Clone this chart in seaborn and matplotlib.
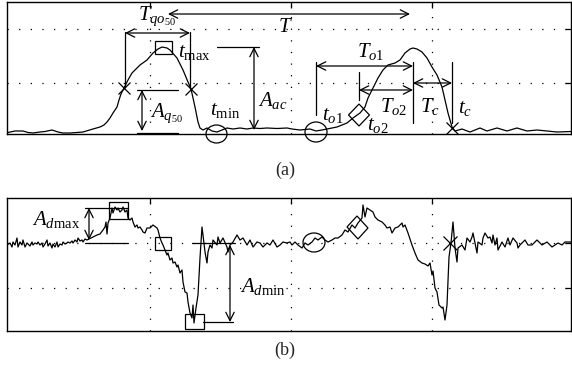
import numpy as np
import pandas as pd
import matplotlib
matplotlib.use("Agg")
import matplotlib.pyplot as plt
import seaborn as sns
from matplotlib.patches import Rectangle, Ellipse, Polygon

# ---------------- data ----------------
# (a) pulse waveform: sample index vs amplitude (arbitrary units)
pulse_t = [-2, 6, 14, 19, 24, 31, 36, 43, 49, 54, 61, 68, 74, 79, 84, 91, 95, 98, 101, 104,
           108, 110, 112, 115, 119, 123, 131, 138, 144, 149, 153, 158, 161, 168, 174, 179, 182, 186, 189, 191,
           194, 198, 203, 208, 213, 218, 224, 231, 238, 244, 251, 258, 268, 278, 283, 291, 301, 307, 313, 318,
           328, 338, 344, 351, 356, 359, 364, 369, 374, 379, 386, 391, 396, 401, 404, 408, 413, 418, 423, 428,
           433, 436, 439, 443, 446, 453, 461, 471, 478, 488, 498, 508, 518, 528, 538, 548, 562]
pulse_a = [4.3, 6, 6, 4.5, 4, 5, 5.5, 7, 5, 4, 4, 4.5, 5, 6.5, 8, 10, 12, 15, 19, 24,
           30, 37, 43, 49, 57, 64, 72, 77, 84, 88, 90, 89, 87, 79, 67, 55, 48, 30, 15, 9,
           7, 9, 6, 5, 7, 9, 8, 9, 8, 9, 8.5, 9, 8.5, 9, 8, 7, 8, 6, 7, 8,
           10, 14, 19, 24, 30, 39, 49, 59, 67, 72, 74, 77, 84, 88, 89, 88, 85, 79, 70, 62,
           50, 37, 24, 10, 6, 8, 5, 9, 6, 9, 6, 9, 6, 7, 6, 5, 5.5]

# (b) derivative waveform: sample index vs value
deriv_t = [-2, 1, 3, 4, 6, 8, 9, 11, 13, 14, 16, 18, 19, 21, 23, 24, 26, 28, 29, 31,
           33, 34, 36, 38, 39, 41, 43, 44, 46, 48, 49, 51, 53, 54, 56, 58, 59, 61, 63, 64,
           66, 68, 69, 71, 73, 74, 76, 78, 80, 84, 88, 91, 94, 96, 97, 98, 99, 101, 103, 104,
           106, 108, 109, 111, 113, 114, 116, 118, 119, 121, 123, 124, 126, 128, 129, 131, 133, 134, 136, 138,
           141, 144, 148, 149, 151, 153, 154, 156, 158, 159, 161, 163, 164, 166, 168, 169, 171, 173, 174, 176,
           178, 179, 181, 183, 184, 185, 187, 189, 191, 193, 194, 196, 198, 199, 201, 203, 204, 208, 209, 211,
           214, 218, 219, 221, 224, 228, 231, 234, 238, 241, 244, 248, 251, 254, 258, 261, 264, 268, 271, 274,
           278, 281, 283, 286, 289, 293, 296, 299, 303, 306, 309, 313, 316, 319, 323, 326, 329, 333, 336, 339,
           343, 346, 349, 353, 354, 356, 358, 361, 364, 366, 369, 373, 376, 378, 381, 383, 386, 389, 393, 394,
           396, 399, 403, 406, 409, 413, 416, 419, 421, 423, 424, 426, 428, 430, 433, 434, 436, 438, 439, 440,
           442, 444, 446, 448, 449, 453, 456, 458, 461, 463, 464, 468, 469, 473, 474, 476, 479, 481, 483, 484,
           486, 488, 489, 493, 496, 499, 501, 504, 508, 509, 511, 516, 519, 523, 528, 533, 538, 543, 546, 549,
           553, 556, 562]
deriv_d = [-2, 0, -4, 1, -2, 5, -4, 1, -2, 3, -4, 0, -1, -3, 1, -2, 0, -1, 1, -2,
           0, -4, -1, 3, -3, 0, -5, -1, -4, 1, -4, -1, -2, 1, -1, 0, 1, 0, 2, 0,
           3, 1, 5, 2, 3, 1, 4, 3, 4, 6, 8, 9, 13, 16, 21, 9, 20, 25, 35, 30,
           36, 33, 35, 31, 33, 36, 31, 33, 25, 23, 25, 21, 16, 18, 15, 16, 13, 11, 10, 15,
           15, 18, 15, 13, 5, 0, -2, -7, -12, -10, -17, -15, -20, -19, -24, -22, -30, -27, -39, -49,
           -50, -59, -70, -75, -62, -80, -65, -52, -15, 16, 8, -9, -20, -9, -2, -5, 3, -2, 6, 0,
           5, -4, -9, -2, 1, 8, 3, 5, -2, 3, -4, 1, 0, -4, 0, -2, 3, -4, -2, 1,
           0, 1, -2, 1, -2, -5, 0, -2, 1, 5, 3, 6, 3, 1, 3, 5, 5, 8, 13, 11,
           18, 15, 20, 25, 38, 26, 35, 33, 31, 26, 23, 21, 18, 15, 16, 10, 15, 16, 20, 16,
           18, 10, -2, -10, -17, -20, -21, -23, -20, -32, -28, -45, -49, -62, -65, -64, -77, -62, -39, -14,
           0, 21, -5, -19, -5, -2, -7, 5, 1, 6, 10, -10, 1, -2, 5, 10, 5, 6, 0, 8,
           -2, 5, -7, 1, -4, 5, -2, 5, 0, -5, -2, 3, -2, -2, 3, -2, 1, -4, -2, 0,
           -2, 1, 1]

grid_t = [141, 282, 423]
grid_a = [54, 108]
grid_d = [-45, 0]

# ---------------- style ----------------
sns.set_style("white")
plt.rcParams["font.family"] = ["Liberation Serif", "DejaVu Serif"]
plt.rcParams["mathtext.fontset"] = "custom"
plt.rcParams["mathtext.rm"] = "Liberation Serif"
plt.rcParams["mathtext.it"] = "Liberation Serif:italic"
plt.rcParams["mathtext.bf"] = "Liberation Serif:bold"

LW = 0.9
FS = 15
K = "black"

fig = plt.figure(figsize=(5.72, 3.77), dpi=100)
fig.patch.set_facecolor("white")
ax_a = fig.add_axes([7 / 572, 1 - 134 / 377, 564 / 572, 132 / 377])
ax_b = fig.add_axes([7 / 572, 1 - 331 / 377, 564 / 572, 133 / 377])

df_a = pd.DataFrame({"t": pulse_t, "a": pulse_a})
df_b = pd.DataFrame({"t": deriv_t, "d": deriv_d})
sns.lineplot(data=df_a, x="t", y="a", ax=ax_a, color=K, lw=LW, estimator=None, sort=False)
sns.lineplot(data=df_b, x="t", y="d", ax=ax_b, color=K, lw=0.9, estimator=None, sort=False)

for ax, yt, yl in [(ax_a, grid_a, (3, 135)), (ax_b, grid_d, (-88, 45))]:
    ax.set_xlim(-2, 562)
    ax.set_ylim(*yl)
    ax.set_xticks(grid_t)
    ax.set_yticks(yt)
    ax.set_xlabel("")
    ax.set_ylabel("")
    ax.tick_params(direction="in", length=4, width=0.9, color=K, top=True, right=True,
                   labelbottom=False, labelleft=False)
    ax.grid(True, color=K, lw=0.9, linestyle=(0, (1, 8.3)))
    for s in ax.spines.values():
        s.set_color(K)
        s.set_linewidth(1.0)
        s.set_visible(True)
    ax.set_facecolor("white")


def darrow(ax, x0, y0, x1, y1):
    ax.annotate("", xy=(x1, y1), xytext=(x0, y0),
                arrowprops=dict(arrowstyle="<->,head_length=0.6,head_width=0.3", lw=LW, color=K,
                                shrinkA=0, shrinkB=0, mutation_scale=10),
                annotation_clip=False)


def seg(ax, x0, y0, x1, y1):
    ax.plot([x0, x1], [y0, y1], color=K, lw=LW, clip_on=False)


def label(ax, x, y, s, ha="left"):
    ax.text(x, y, s, fontsize=FS, ha=ha, va="baseline", color=K)


# ---------------- annotations (a) ----------------
a = ax_a
darrow(a, 159, 123, 401, 123)
label(a, 276, 105, "$T$", ha="center")
darrow(a, 116, 104, 181, 104)
seg(a, 116, 105, 116, 50)
seg(a, 181, 105, 181, 49)
label(a, 129, 117, "$T_{qo_{50}}$")
a.add_patch(Rectangle((146, 83), 17, 13, fill=False, ec=K, lw=LW))
label(a, 169, 80, r"$t_{\mathrm{max}}$")
seg(a, 208, 90, 250, 90)
darrow(a, 245, 90, 245, 7)
label(a, 249, 31, "$A_{ac}$")
darrow(a, 133, 47, 133, 6)
seg(a, 128, 47, 169, 47)
seg(a, 128, 4.5, 169, 4.5)
label(a, 141, 20, "$A_{q_{50}}$")
a.add_patch(Ellipse((207.5, 3), 21, 18, fill=False, ec=K, lw=LW, clip_on=False))
label(a, 201, 22, r"$t_{\mathrm{min}}$")
a.plot([115, 182, 443], [49, 48, 9], ls="none", marker="x", ms=9, mew=0.9, color=K, clip_on=False)

darrow(a, 307, 71, 404, 71)
seg(a, 307, 75, 307, 22)
seg(a, 404, 75, 404, 14)
label(a, 348, 80, "$T_{o1}$")
darrow(a, 350, 47, 404, 47)
seg(a, 350, 65, 350, 37)
label(a, 371, 25, "$T_{o2}$")
darrow(a, 404, 54, 443, 54)
seg(a, 443, 75, 443, 14)
label(a, 411, 25, "$T_c$")
label(a, 449, 24, "$t_c$")
a.add_patch(Ellipse((307, 5), 22, 20, fill=False, ec=K, lw=LW, clip_on=False))
label(a, 313, 17, "$t_{o1}$")
a.add_patch(Polygon([(339.5, 22), (350, 33), (360.5, 22), (350, 11)], closed=True,
                    fill=False, ec=K, lw=LW))
label(a, 358, 7, "$t_{o2}$")

# ---------------- annotations (b) ----------------
b = ax_b
seg(b, 76, 35, 119, 35)
seg(b, 76, 0, 119, 0)
darrow(b, 80, 35, 80, 3)
label(b, 23, 18, r"$A_{d\mathrm{max}}$")
b.add_patch(Rectangle((100, 24), 19, 17, fill=False, ec=K, lw=LW))
b.add_patch(Rectangle((146, -7), 16, 13, fill=False, ec=K, lw=LW))
b.add_patch(Rectangle((176, -86), 19, 15, fill=False, ec=K, lw=LW, clip_on=False))
seg(b, 183, 0, 226, 0)
seg(b, 194, -79, 224, -79)
darrow(b, 221, -2, 221, -79)
label(b, 231, -49, r"$A_{d\mathrm{min}}$")
b.add_patch(Ellipse((305, 0.5), 22, 19, fill=False, ec=K, lw=LW))
b.add_patch(Polygon([(338, 16), (348, 27), (359, 15), (349, 4)], closed=True,
                    fill=False, ec=K, lw=LW))
b.plot([441], [0], ls="none", marker="x", ms=10, mew=0.9, color=K)

fig.text(285 / 572, 1 - 170 / 377, "(a)", fontsize=13, ha="center", va="center")
fig.text(285 / 572, 1 - 350 / 377, "(b)", fontsize=13, ha="center", va="center")

fig.savefig("out.png", dpi=100, facecolor="white")
